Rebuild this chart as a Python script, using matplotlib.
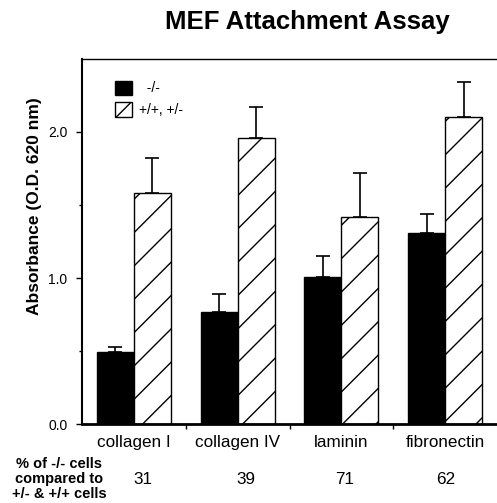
import numpy as np
import matplotlib
matplotlib.use("Agg")
import matplotlib.pyplot as plt
from matplotlib.patches import Patch
from matplotlib.transforms import blended_transform_factory
from matplotlib.ticker import FormatStrFormatter

plt.rcParams['font.family'] = ['Liberation Sans', 'DejaVu Sans']

categories = ['collagen I', 'collagen IV', 'laminin', 'fibronectin']
ko_mean = [0.49, 0.77, 1.01, 1.31]
ko_err = [0.04, 0.12, 0.14, 0.13]
wt_mean = [1.58, 1.96, 1.42, 2.10]
wt_err = [0.24, 0.21, 0.30, 0.24]
percent = ['31', '39', '71', '62']
series_names = ['-/-', '+/+, +/-']

W, H = 497, 503
fig = plt.figure(figsize=(W / 100, H / 100), dpi=100)
ax = fig.add_axes([82 / W, 1 - 424 / H, 1 - 82 / W, (424 - 59) / H])

x = np.arange(len(categories))
bw = 0.356

ax.bar(x - bw / 2, ko_mean, bw, color='black', edgecolor='black', linewidth=1)
ax.bar(x + bw / 2, wt_mean, bw, color='white', edgecolor='black', linewidth=1, hatch='/')
ax.errorbar(x - bw / 2, ko_mean, yerr=[np.zeros(4), ko_err], fmt='none',
            ecolor='black', elinewidth=1.2, capsize=4.7, capthick=1.2)
ax.errorbar(x + bw / 2, wt_mean, yerr=[np.zeros(4), wt_err], fmt='none',
            ecolor='black', elinewidth=1.2, capsize=4.7, capthick=1.2)

ax.set_xlim(-0.5, 3.5)
ax.set_ylim(0, 2.5)

ax.spines['right'].set_visible(False)
ax.spines['left'].set_linewidth(1.5)
ax.spines['bottom'].set_linewidth(2)
ax.spines['top'].set_linewidth(1)

ax.set_yticks([0, 1, 2])
ax.set_yticks([0.5, 1.5], minor=True)
ax.yaxis.set_major_formatter(FormatStrFormatter('%.1f'))
ax.tick_params(axis='y', which='major', direction='out', length=4.5, width=1,
               labelsize=10, pad=6)
ax.tick_params(axis='y', which='minor', direction='out', length=2.5, width=1)

ax.set_xticks(x)
ax.set_xticklabels(categories)
ax.set_xticks([0.5, 1.5, 2.5], minor=True)
ax.tick_params(axis='x', which='major', length=0, labelsize=12.3, pad=8)
ax.tick_params(axis='x', which='minor', direction='out', length=3.5, width=1)

handles = [Patch(facecolor='black', edgecolor='black'),
           Patch(facecolor='white', edgecolor='black', hatch='/')]
ax.legend(handles, ['  ' + series_names[0], series_names[1]], loc='upper left',
          bbox_to_anchor=(0.05, 0.975), frameon=False, fontsize=10,
          handlelength=1.2, handleheight=1.2, handletextpad=0.5, labelspacing=0.5)

fig.text(307 / W, 1 - 21.5 / H, 'MEF Attachment Assay', fontsize=18.5,
         fontweight='bold', ha='center', va='center')
fig.text(35 / W, 1 - 206 / H, 'Absorbance (O.D. 620 nm)', fontsize=12.5,
         fontweight='bold', rotation=90, ha='center', va='center')

fig.text(59 / W, 1 - 479 / H, '% of -/- cells\ncompared to\n+/- & +/+ cells',
         fontsize=10.5, fontweight='bold', ha='center', va='center',
         linespacing=1.1)

trans = blended_transform_factory(ax.transData, fig.transFigure)
num_dx = [0.09, 0.08, 0.03, 0.01]
for xi, dx, p in zip(x, num_dx, percent):
    ax.text(xi + dx, 1 - 480 / H, p, transform=trans, fontsize=12.3,
            ha='center', va='center')

fig.savefig('out.png', dpi=100)
